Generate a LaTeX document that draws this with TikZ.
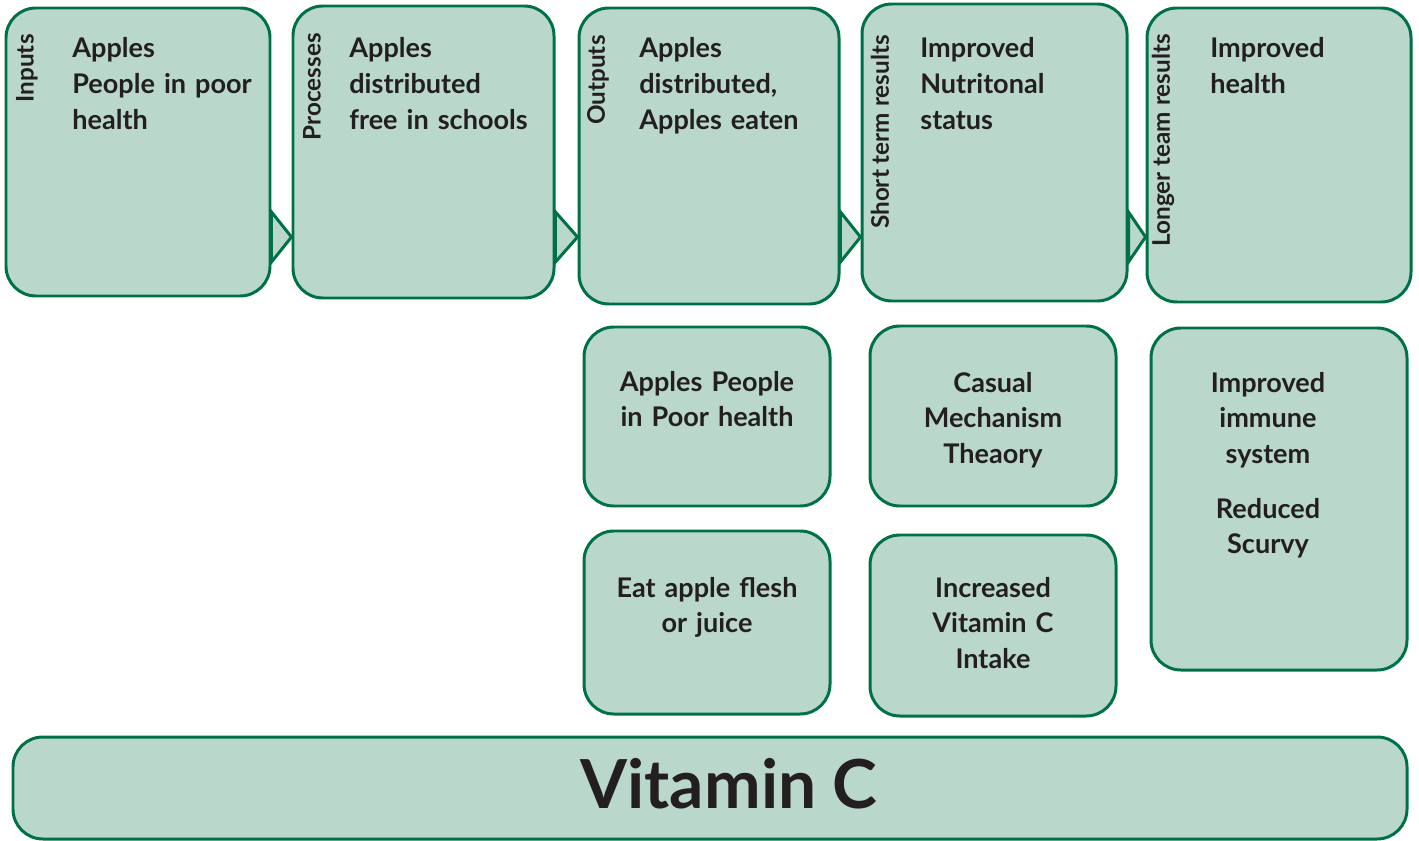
\documentclass[tikz,border=0pt]{standalone}
\usepackage{fontspec}
\setmainfont{Lato}
\usetikzlibrary{calc,fit}
\definecolor{boxfill}{RGB}{186,215,203}
\definecolor{boxline}{RGB}{0,113,71}
\definecolor{txt}{RGB}{35,31,32}
\begin{document}
\begin{tikzpicture}[x=0.02cm,y=-0.02cm,
  box/.style={draw=boxline, fill=boxfill, line width=1.7pt, rounded corners=17pt, inner sep=0pt},
  tri/.style={draw=boxline, fill=boxfill, line width=1.7pt, line join=miter},
  body/.style={text=txt, font=\fontsize{15.4}{20.4}\selectfont\bfseries, inner sep=0pt, anchor=base west, text width=#1, align=left},
  cbody/.style={text=txt, font=\fontsize{15.4}{20.4}\selectfont\bfseries, inner sep=0pt, anchor=base, text width=#1, align=center},
  vlab/.style={text=txt, font=\fontsize{13.8}{15}\selectfont\bfseries, inner sep=0pt, rotate=90, anchor=east}]
\useasboundingbox (0,0) rectangle (1419,841);
% top row boxes
\node[box, fit={(6,8) (270,296)}] (in) {};
\node[box, fit={(293,6) (554,298)}] (pr) {};
\node[box, fit={(579,8) (839,304)}] (ou) {};
\node[box, fit={(862,4) (1127,301)}] (st) {};
\node[box, fit={(1147,8) (1411,302)}] (lt) {};
% lower boxes
\node[box, fit={(584,327) (830,506)}] (ap) {};
\node[box, fit={(870,326) (1116,506)}] (cm) {};
\node[box, fit={(1151,328) (1407,670)}] (im) {};
\node[box, fit={(584,531) (830,714)}] (ea) {};
\node[box, fit={(870,535) (1116,716)}] (vi) {};
\node[box, fit={(13,737) (1407,839)}] (vc) {};
% arrow triangles
\coordinate (r) at (0,237);
\draw[tri] ($(in.east |- r)+(0,-25)$) -- (pr.west |- r) -- ($(in.east |- r)+(0,25)$) -- cycle;
\draw[tri] ($(pr.east |- r)+(0,-25)$) -- (ou.west |- r) -- ($(pr.east |- r)+(0,25)$) -- cycle;
\draw[tri] ($(ou.east |- r)+(0,-25)$) -- (st.west |- r) -- ($(ou.east |- r)+(0,25)$) -- cycle;
\draw[tri] ($(st.east |- r)+(0,-25)$) -- (lt.west |- r) -- ($(st.east |- r)+(0,25)$) -- cycle;
% vertical labels
\node[vlab] (inl) at (27,34) {Inputs};
\node[vlab] (prl) at (312,33) {Processes};
\node[vlab] (oul) at (598,35) {Outputs};
\node[vlab] (stl) at (880,35) {Short term results};
\node[vlab] (ltl) at (1163,34) {Longer team results};
% top texts
\node[body=5cm] (int) at (72,58) {Apples\\People in poor\\health};
\node[body=5cm] (prt) at (349,58) {Apples\\distributed\\free in schools};
\node[body=5cm] (out) at (639,58) {Apples\\distributed,\\Apples eaten};
\node[body=5cm] (stt) at (920,58) {Improved\\Nutritonal\\status};
\node[body=5cm] (ltt) at (1210,58) {Improved\\health};
% lower texts
\node[cbody=4.6cm] (apt) at (707,391) {Apples People\\in Poor health};
\node[cbody=4.6cm] (cmt) at (993,392) {Casual\\Mechanism\\Theaory};
\node[cbody=4.6cm] (imt) at (1268,392) {Improved\\immune\\system};
\node[cbody=4.6cm] (rst) at (1268,518) {Reduced\\Scurvy};
\node[cbody=4.6cm] (eat) at (707,597) {Eat apple flesh\\or juice};
\node[cbody=4.6cm] (vit) at (993,597) {Increased\\Vitamin C\\Intake};
\node[text=txt, font=\fontsize{38.5}{46}\selectfont\bfseries, inner sep=0pt, anchor=base] (vct) at (729,808) {Vitamin C};
\end{tikzpicture}
\end{document}
